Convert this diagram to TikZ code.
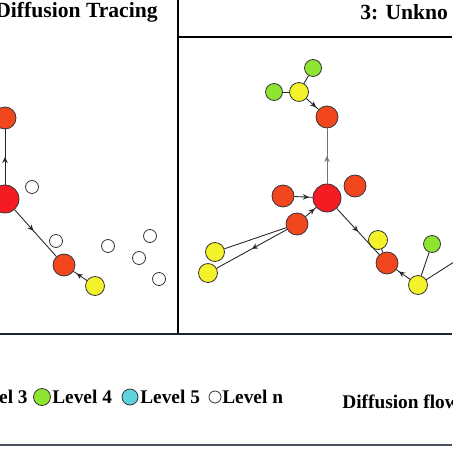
\documentclass[tikz,border=0pt]{standalone}
\usepackage{fontspec}
\setmainfont{Liberation Serif}
\usetikzlibrary{decorations.markings,arrows.meta}
\tikzset{>={Stealth[length=1.2mm,width=1.1mm]}}
\definecolor{SeedRed}{HTML}{F41C22}
\definecolor{LevelOrange}{HTML}{F2461F}
\definecolor{LevelYellow}{HTML}{F4F22A}
\definecolor{LevelGreen}{HTML}{8EE531}
\definecolor{LevelCyan}{HTML}{5ED3DE}
\definecolor{FrameNavy}{HTML}{1C2638}
\colorlet{FlowLine}{black!85}
\tikzset{
  Agent/.style 2 args={
    circle, draw=black!80, line width=0.45pt,
    fill=#1, inner sep=0pt, minimum size=#2
  },
  SeedAgent/.style={Agent={SeedRed}{5.6mm}},
  OrangeAgent/.style={Agent={LevelOrange}{4.4mm}},
  YellowAgent/.style={Agent={LevelYellow}{3.8mm}},
  GreenAgent/.style={Agent={LevelGreen}{3.4mm}},
  IdleAgent/.style={Agent={white}{2.6mm}},
  FlowArrow/.style={
    FlowLine, line width=0.5pt,
    postaction={decorate},
    decoration={markings,
      mark=at position #1 with {\arrow{>}}
    }
  },
  PanelText/.style={font=\bfseries\fontsize{11}{13}\selectfont, inner sep=0pt},
  TitleText/.style={font=\bfseries\fontsize{12.3}{14}\selectfont, inner sep=0pt}
}

\begin{document}
\begin{tikzpicture}[x=0.02cm,y=-0.02cm]
    \path[use as bounding box] (0,0) rectangle (452,452);

    \draw[line width=0.6pt] (178,0) -- (178,334);
    \draw[line width=0.6pt] (178,37) -- (452,37);
    \draw[FrameNavy, line width=1pt] (0,334) -- (452,334);
    \draw[FrameNavy!80, line width=1pt] (0,445) -- (452,445);

    \node[TitleText, anchor=east] (lTitle) at (158,12) {Diffusion Tracing};
    \node[TitleText, anchor=west] (rTitle) at (360,12) {3: Unkno};

    % left panel
    \node[OrangeAgent] (lTop) at (5,118) {};
    \node[SeedAgent] (lRoot) at (5,199) {};
    \node[OrangeAgent] (lMid) at (64,265) {};
    \node[YellowAgent] (lLeaf) at (95,286) {};
    \node[IdleAgent] (lIdleA) at (32,187) {};
    \node[IdleAgent] (lIdleB) at (56,241) {};
    \node[IdleAgent] (lIdleC) at (108,246) {};
    \node[IdleAgent] (lIdleD) at (150,236) {};
    \node[IdleAgent] (lIdleE) at (139,258) {};
    \node[IdleAgent] (lIdleF) at (159,279) {};
    \draw[FlowArrow=0.5] (lRoot) -- (lTop);
    \draw[FlowArrow=0.45] (lRoot) -- (lMid);
    \draw[FlowArrow=0.75] (lLeaf) -- (lMid);

    % right panel
    \node[GreenAgent] (rGreenT) at (313,68) {};
    \node[GreenAgent] (rGreenL) at (274,92) {};
    \node[YellowAgent] (rYellowT) at (299,92) {};
    \node[OrangeAgent] (rTop) at (327,117) {};
    \node[SeedAgent] (rRoot) at (327,198) {};
    \node[OrangeAgent] (rRight) at (355,186) {};
    \node[OrangeAgent] (rLeft) at (283,196) {};
    \node[OrangeAgent] (rLow) at (297,224) {};
    \node[YellowAgent] (rYellowA) at (215,252) {};
    \node[YellowAgent] (rYellowB) at (208,273) {};
    \node[OrangeAgent] (rBottom) at (387,263) {};
    \node[YellowAgent] (rYellowR) at (378,240) {};
    \node[YellowAgent] (rYellowC) at (418,285) {};
    \node[GreenAgent] (rGreenR) at (432,244) {};
    \coordinate (rOut) at (454,262);

    \draw[FlowArrow=0.5, black!55] (rRoot) -- (rTop);
    \draw[FlowArrow=0.8] (rYellowT) -- (rTop);
    \draw[FlowLine, line width=0.5pt] (rYellowT) -- (rGreenT);
    \draw[FlowLine, line width=0.5pt] (rYellowT) -- (rGreenL);
    \draw[FlowArrow=0.8] (rLeft) -- (rRoot);
    \draw[FlowArrow=0.85] (rLow) -- (rRoot);
    \draw[FlowLine, line width=0.5pt] (rLow) -- (rYellowA);
    \draw[FlowArrow=0.5] (rLow) -- (rYellowB);
    \draw[FlowArrow=0.5] (rRoot) -- (rBottom);
    \draw[FlowLine, line width=0.5pt] (rYellowR) -- (rBottom);
    \draw[FlowArrow=0.8] (rYellowC) -- (rBottom);
    \draw[FlowLine, line width=0.5pt] (rYellowC) -- (rGreenR);
    \draw[FlowLine, line width=0.5pt] (rYellowC) -- (rOut);

    % legend
    \node[PanelText, anchor=east] (levThree) at (28,397) {Level 3};
    \node[GreenAgent] (keyFour) at (42,397) {};
    \node[PanelText, anchor=west] (levFour) at (52,397) {Level 4};
    \node[Agent={LevelCyan}{3.2mm}] (keyFive) at (130,397) {};
    \node[PanelText, anchor=west] (levFive) at (140,397) {Level 5};
    \node[Agent={white}{2.4mm}] (keyN) at (215,397) {};
    \node[PanelText, anchor=west] (levN) at (222,397) {Level n};
    \node[PanelText, anchor=west] (flowKey) at (342,402) {Diffusion flow};
\end{tikzpicture}
\end{document}
